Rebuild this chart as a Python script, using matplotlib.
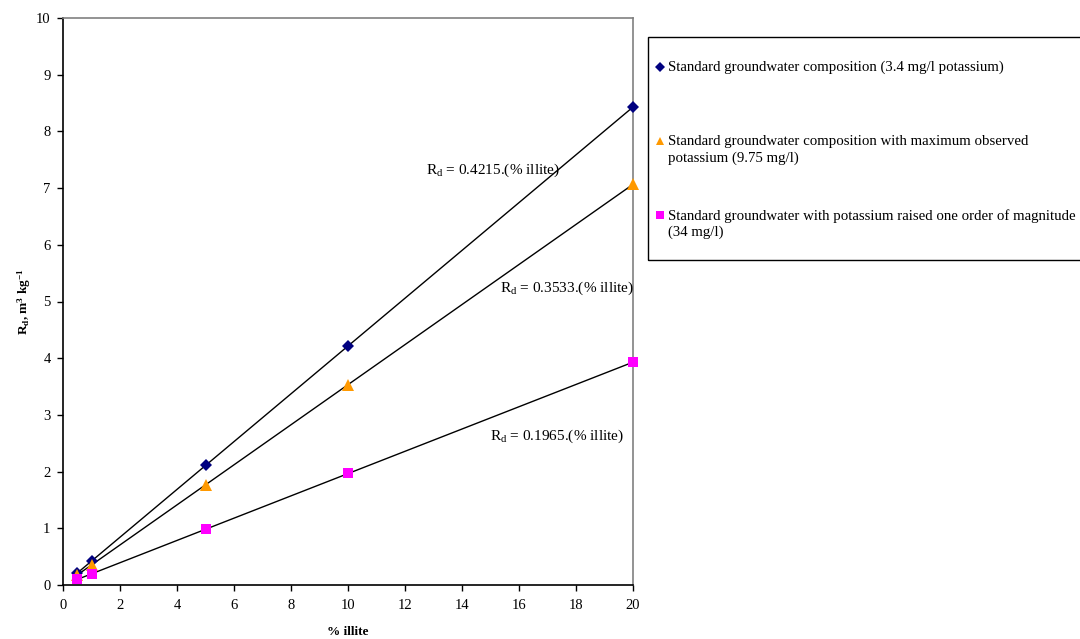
import matplotlib
matplotlib.use('Agg')
import matplotlib.pyplot as plt
from matplotlib.lines import Line2D
from matplotlib.patches import Rectangle
import numpy as np

plt.rcParams['font.family'] = ['Liberation Serif', 'DejaVu Serif']
plt.rcParams['mathtext.fontset'] = 'custom'
plt.rcParams['mathtext.rm'] = 'Liberation Serif'
plt.rcParams['mathtext.it'] = 'Liberation Serif:italic'
plt.rcParams['mathtext.bf'] = 'Liberation Serif:bold'

# dados
illite = [0.5, 1, 5, 10, 20]
rd_padrao = [0.21, 0.42, 2.11, 4.21, 8.43]
rd_max_k = [0.18, 0.35, 1.77, 3.53, 7.07]
rd_k_alto = [0.10, 0.20, 0.98, 1.97, 3.93]

inclinacoes = [0.4215, 0.3533, 0.1965]
rotulos = ['Standard groundwater composition (3.4 mg/l potassium)',
           'Standard groundwater composition with maximum observed\npotassium (9.75 mg/l)',
           'Standard groundwater with potassium raised one order of magnitude\n(34 mg/l)']
cores = ['#000080', '#FF9900', '#FF00FF']
marcadores = ['D', '^', 's']
tamanhos = [6, 8, 6.5]

fig = plt.figure(figsize=(10.8, 6.39), dpi=100)
ax = fig.add_axes([63 / 1080, 1 - 585 / 639, 570 / 1080, 567 / 639])

# linhas de tendencia (passando pela origem)
x_lin = np.array([min(illite), max(illite)])
for k in inclinacoes:
    ax.plot(x_lin, k * x_lin, color='black', lw=1.0, zorder=2)

series = [rd_padrao, rd_max_k, rd_k_alto]
for ys, c, m, s in zip(series, cores, marcadores, tamanhos):
    ax.plot(illite, ys, ls='none', marker=m, color=c, markersize=s,
            markeredgewidth=0, zorder=3, clip_on=False)

# equacoes
eq = r'R$_\mathregular{d}$ = %.4f.(%% illite)'
ax.text(12.75, 7.32, eq % inclinacoes[0], fontsize=11, va='center')
ax.text(15.35, 5.24, eq % inclinacoes[1], fontsize=11, va='center')
ax.text(15.0, 2.63, eq % inclinacoes[2], fontsize=11, va='center')

ax.set_xlim(0, 20)
ax.set_ylim(0, 10)
ax.set_xticks(range(0, 21, 2))
ax.set_yticks(range(0, 11, 1))
ax.tick_params(axis='x', direction='out', length=4, width=1, labelsize=10.5, pad=6)
ax.tick_params(axis='y', direction='out', length=4, width=1, labelsize=10.5, pad=5)
for lado in ['top', 'right']:
    ax.spines[lado].set_color('#808080')
for lado in ['top', 'right', 'left', 'bottom']:
    ax.spines[lado].set_linewidth(1.2)

ax.set_xlabel('% illite', fontsize=9.5, fontweight='bold', labelpad=10)
ax.set_ylabel(r'R$_\mathbf{d}$, m$^\mathbf{3}$ kg$^\mathbf{-1}$', fontsize=9.5,
              fontweight='bold', labelpad=2)

# legenda desenhada na figura
fig.add_artist(Rectangle((648 / 1080, 1 - 260 / 639), 0.5, 223 / 639,
                         transform=fig.transFigure, fill=False,
                         edgecolor='black', lw=1.0))
y_leg = [67, 141, 215]
for yy, rot, c, m, s in zip(y_leg, rotulos, cores, marcadores, tamanhos):
    fig.add_artist(Line2D([660 / 1080], [1 - yy / 639], marker=m, color=c,
                          markersize=s * 0.8, markeredgewidth=0,
                          transform=fig.transFigure))
    fig.text(668 / 1080, 1 - (yy - 6) / 639, rot, fontsize=10.7, va='top',
             linespacing=1.3)

fig.savefig('out.png', dpi=100)
